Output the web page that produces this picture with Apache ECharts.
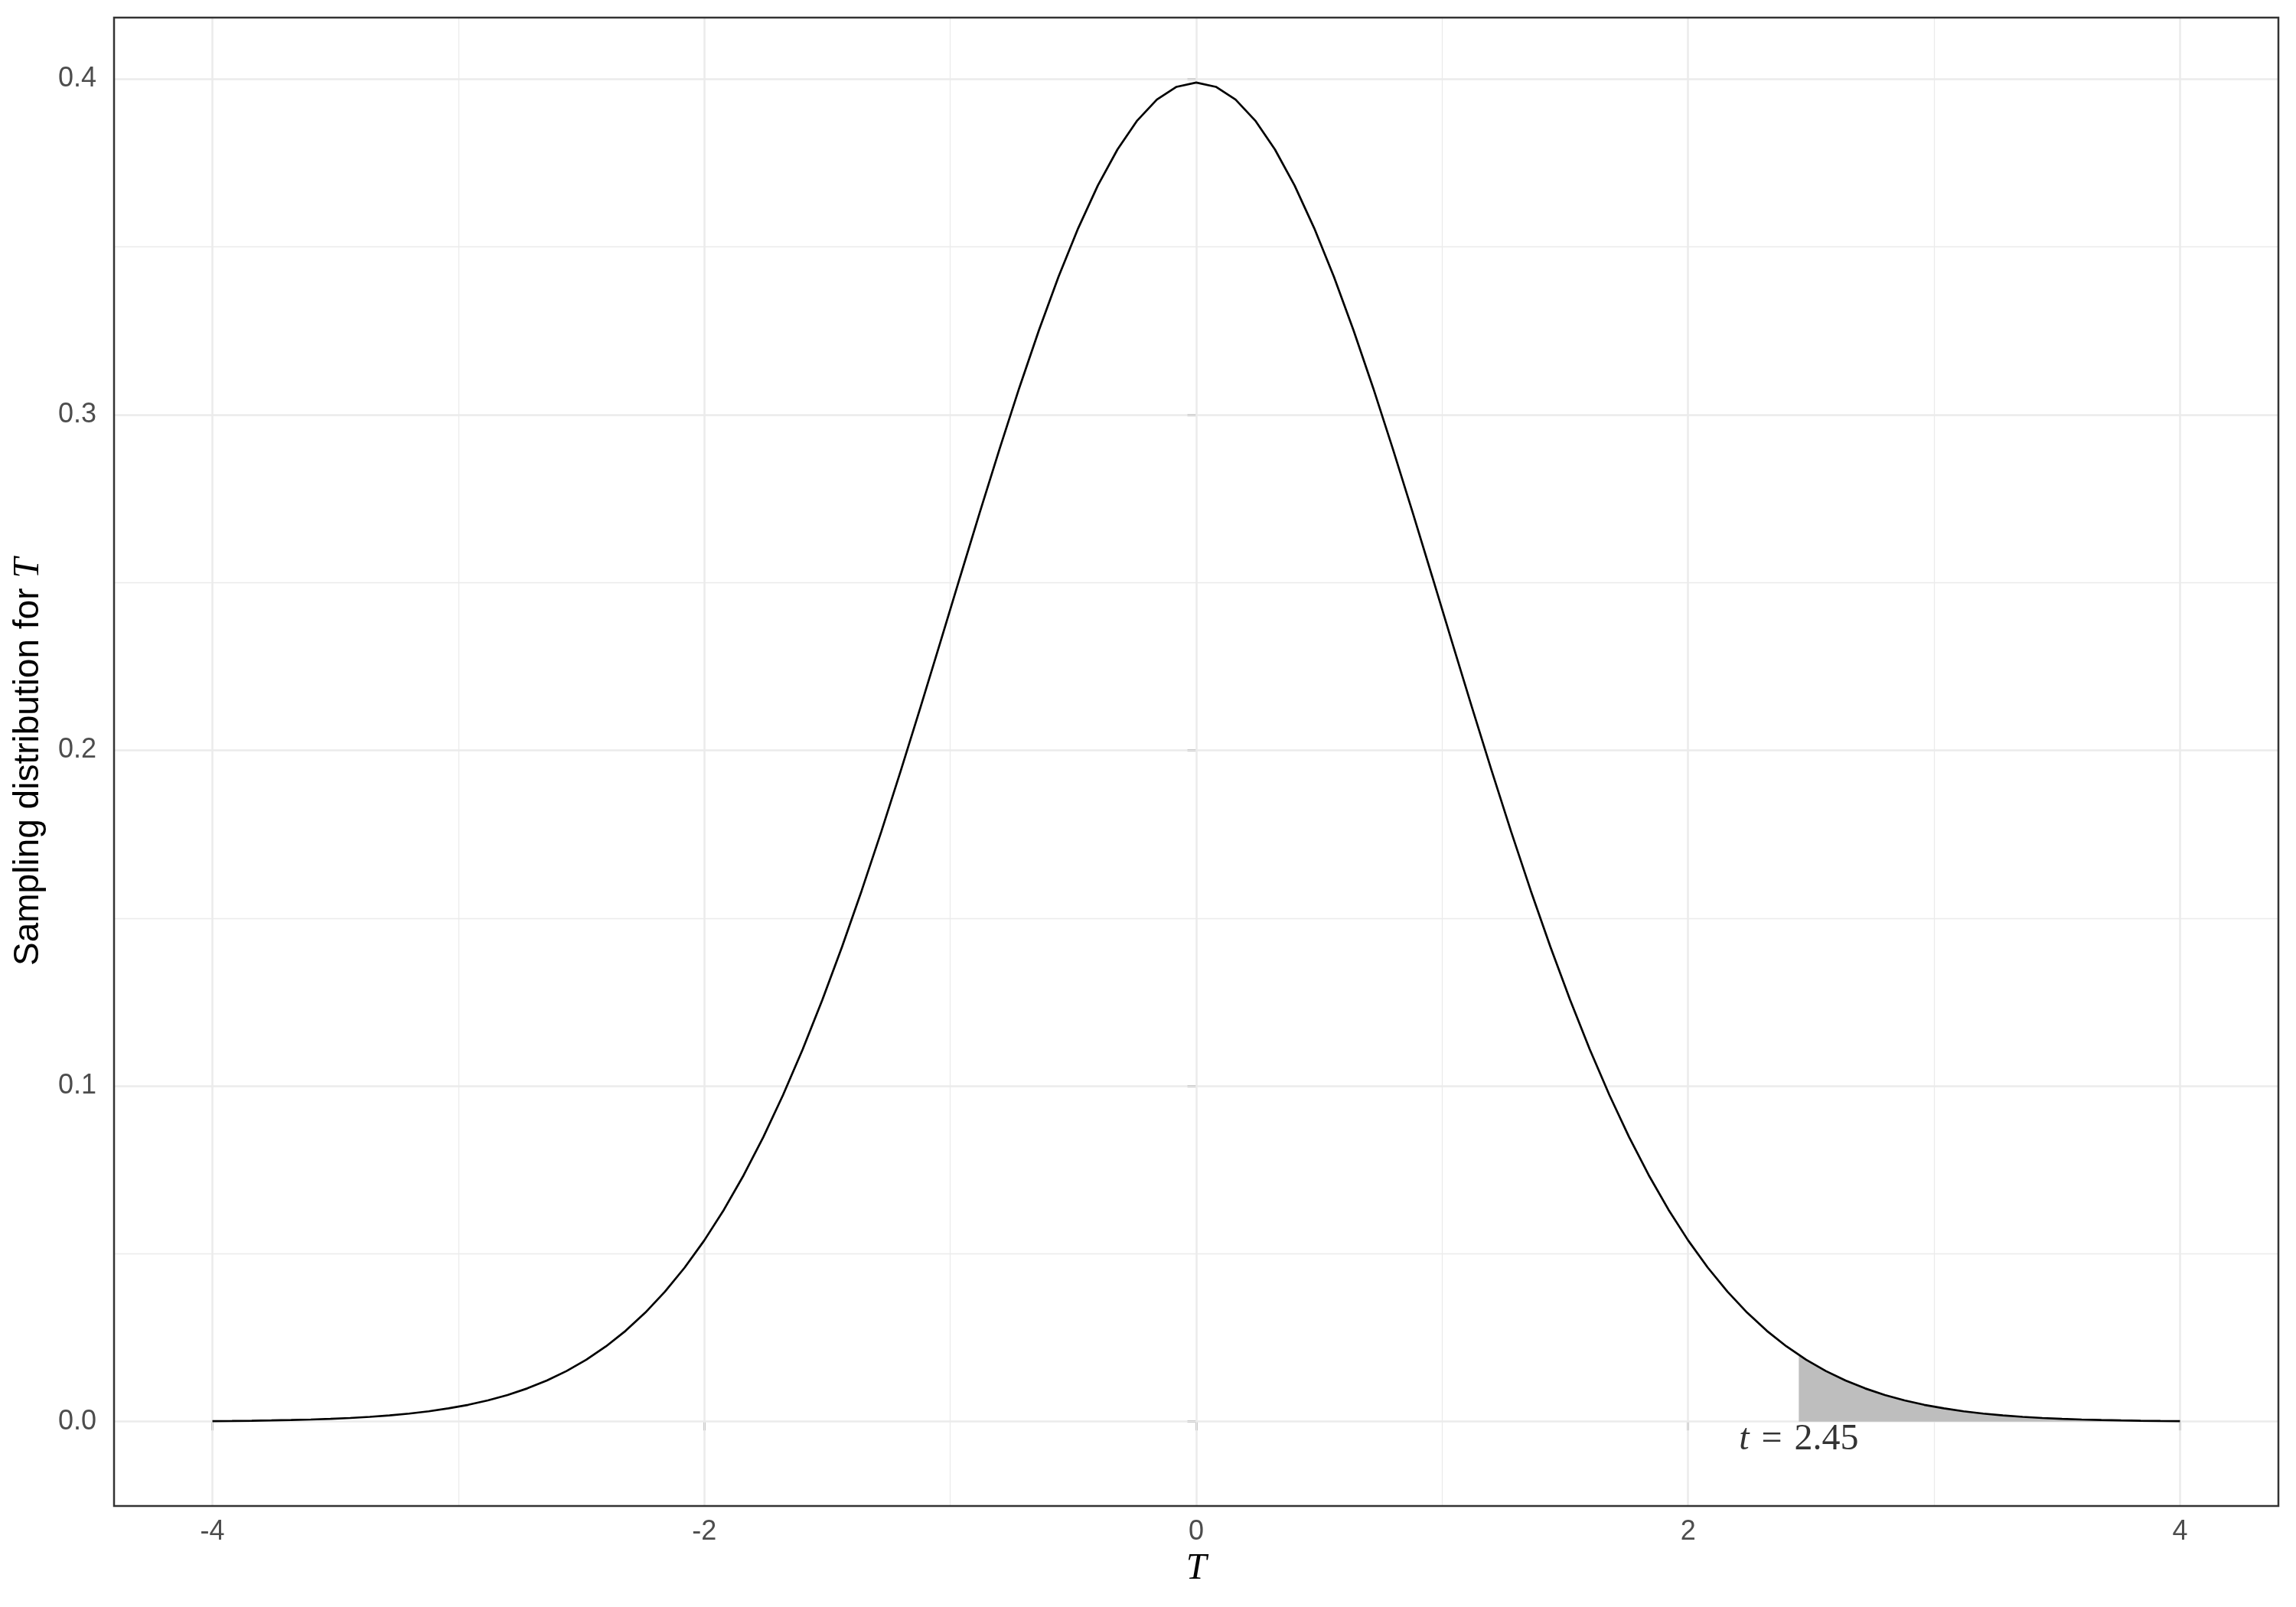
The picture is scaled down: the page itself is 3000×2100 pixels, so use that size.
<!DOCTYPE html>
<html>
<head>
<meta charset="utf-8">
<script src="https://cdn.jsdelivr.net/npm/echarts@6/dist/echarts.min.js"></script>
<style>
html,body{margin:0;padding:0;background:#fff;}
#chart{width:3000px;height:2100px;}
</style>
</head>
<body>
<div id="chart"></div>
<script>
// T values (x) and density
var tValues = [-4,-3.92,-3.84,-3.76,-3.68,-3.6,-3.52,-3.44,-3.36,-3.28,-3.2,-3.12,-3.04,-2.96,-2.88,-2.8,-2.72,-2.64,-2.56,-2.48,-2.4,-2.32,-2.24,-2.16,-2.08,-2,-1.92,-1.84,-1.76,-1.68,-1.6,-1.52,-1.44,-1.36,-1.28,-1.2,-1.12,-1.04,-0.96,-0.88,-0.8,-0.72,-0.64,-0.56,-0.48,-0.4,-0.32,-0.24,-0.16,-0.08,0,0.08,0.16,0.24,0.32,0.4,0.48,0.56,0.64,0.72,0.8,0.88,0.96,1.04,1.12,1.2,1.28,1.36,1.44,1.52,1.6,1.68,1.76,1.84,1.92,2,2.08,2.16,2.24,2.32,2.4,2.48,2.56,2.64,2.72,2.8,2.88,2.96,3.04,3.12,3.2,3.28,3.36,3.44,3.52,3.6,3.68,3.76,3.84,3.92,4];
var densityValues = [0.00013,0.00018,0.00025,0.00034,0.00046,0.00061,0.00081,0.00107,0.00141,0.00184,0.00238,0.00307,0.00393,0.00499,0.00631,0.00792,0.00988,0.01224,0.01506,0.01842,0.02239,0.02704,0.03246,0.03871,0.04587,0.05399,0.06316,0.07341,0.08478,0.09728,0.11092,0.12566,0.14147,0.15823,0.17585,0.19419,0.21307,0.23230,0.25164,0.27086,0.28969,0.30785,0.32506,0.34105,0.35553,0.36827,0.37903,0.38762,0.39387,0.39767,0.39894,0.39767,0.39387,0.38762,0.37903,0.36827,0.35553,0.34105,0.32506,0.30785,0.28969,0.27086,0.25164,0.23230,0.21307,0.19419,0.17585,0.15823,0.14147,0.12566,0.11092,0.09728,0.08478,0.07341,0.06316,0.05399,0.04587,0.03871,0.03246,0.02704,0.02239,0.01842,0.01506,0.01224,0.00988,0.00792,0.00631,0.00499,0.00393,0.00307,0.00238,0.00184,0.00141,0.00107,0.00081,0.00061,0.00046,0.00034,0.00025,0.00018,0.00013];

// shaded tail
var observedT = 2.45;
var observedDensity = 0.01984;
var annotationY = -0.0055;

// ticks / grid
var xTicks = [-4,-2,0,2,4];
var xMinor = [-3,-1,1,3];
var yTicks = [0,0.1,0.2,0.3,0.4];
var yMinor = [0.05,0.15,0.25,0.35];

var curveData = tValues.map(function(t,i){return [t, densityValues[i]];});
var shadeData = [[observedT, observedDensity]].concat(curveData.filter(function(p){return p[0] > observedT;}));

var gridMarks = [];
xTicks.forEach(function(v){gridMarks.push({xAxis:v, lineStyle:{color:'#ebebeb', width:2.5, type:'solid'}});});
xMinor.forEach(function(v){gridMarks.push({xAxis:v, lineStyle:{color:'#ebebeb', width:1.3, type:'solid'}});});
yTicks.forEach(function(v){gridMarks.push({yAxis:v, lineStyle:{color:'#ebebeb', width:2.5, type:'solid'}});});
yMinor.forEach(function(v){gridMarks.push({yAxis:v, lineStyle:{color:'#ebebeb', width:1.3, type:'solid'}});});

var chart = echarts.init(document.getElementById('chart'), null, {renderer:'canvas'});
var sans = '"Liberation Sans", Arial, Helvetica, sans-serif';
var serif = '"Liberation Serif", "Times New Roman", serif';
var sp = '\u2004';

chart.setOption({
  animation:false,
  backgroundColor:'#ffffff',
  grid:{left:149, right:23, top:23, bottom:132, show:true, borderColor:'#333333', borderWidth:2.5, backgroundColor:'transparent', z:4},
  xAxis:{
    type:'value', min:-4.4, max:4.4,
    axisLine:{show:false},
    splitLine:{show:false},
    axisTick:{show:true, customValues:xTicks, length:11.5, lineStyle:{color:'#333333', width:2.5}},
    axisLabel:{customValues:xTicks, margin:16, fontSize:36, color:'#4d4d4d', fontFamily:sans,
      formatter:function(v){return String(v);}},
    name:'T', nameLocation:'middle', nameGap:58,
    nameTextStyle:{fontFamily:serif, fontStyle:'italic', fontSize:48, color:'#000000'}
  },
  yAxis:{
    type:'value', min:-0.02515, max:0.4183,
    axisLine:{show:false},
    splitLine:{show:false},
    axisTick:{show:true, customValues:yTicks, length:11.5, lineStyle:{color:'#333333', width:2.5}},
    axisLabel:{customValues:yTicks, margin:23, fontSize:36, color:'#4d4d4d', fontFamily:sans,
      formatter:function(v){return v.toFixed(1);}},
    name:'Sampling distribution for {t|T}', nameLocation:'middle', nameGap:88, nameRotate:90,
    nameTextStyle:{fontFamily:sans, fontSize:46, color:'#000000',
      rich:{t:{fontFamily:serif, fontStyle:'italic', fontSize:48, color:'#000000'}}}
  },
  series:[
    {type:'line', data:[], z:1, silent:true,
      markLine:{silent:true, symbol:['none','none'], label:{show:false}, z:1, animation:false, data:gridMarks}},
    {type:'line', data:shadeData, z:2, symbol:'none', silent:true,
      lineStyle:{width:0, opacity:0}, areaStyle:{color:'#bebebe', opacity:1}},
    {type:'line', data:curveData, z:3, symbol:'none', silent:true, smooth:false,
      lineStyle:{color:'#000000', width:2.7}},
    {type:'scatter', data:[[observedT, annotationY]], z:5, symbolSize:1, silent:true,
      itemStyle:{color:'transparent'},
      label:{show:true, position:'inside', formatter:'{i|t}' + sp + '=' + sp + '2.45', fontFamily:serif, fontSize:48, color:'#000000',
        rich:{i:{fontFamily:serif, fontStyle:'italic', fontSize:48, color:'#000000'}}}}
  ]
});
</script>
</body>
</html>
